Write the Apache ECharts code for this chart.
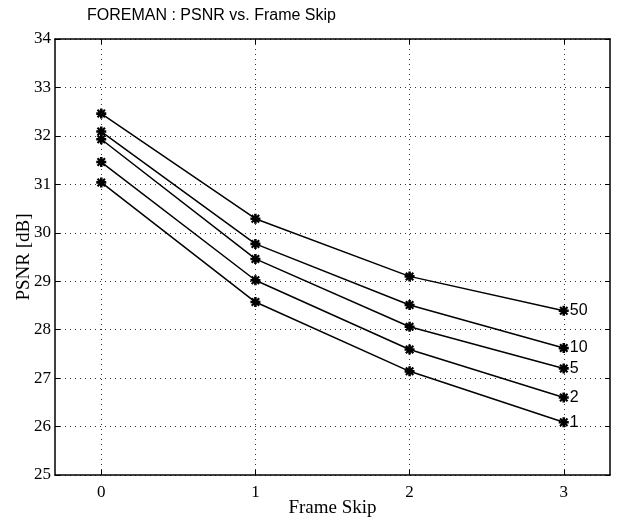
<!DOCTYPE html>
<html>
<head>
<meta charset="utf-8">
<script src="https://cdn.jsdelivr.net/npm/echarts@6/dist/echarts.min.js"></script>
<style>
  html, body { margin: 0; padding: 0; background: #fff; }
  #chart { width: 617px; height: 518px; }
</style>
</head>
<body>
<div id="chart"></div>
<script>
// ----------data----------
const frameSkip = [0, 1, 2, 3];
const xTicks = [0, 1, 2, 3];
const seriesNames = ['50', '10', '5', '2', '1'];
const psnr50 = [32.46, 30.29, 29.10, 28.39];
const psnr10 = [32.09, 29.77, 28.51, 27.62];
const psnr5 = [31.93, 29.46, 28.06, 27.20];
const psnr2 = [31.46, 29.02, 27.59, 26.60];
const psnr1 = [31.04, 28.57, 27.14, 26.09];
const allPsnr = [psnr50, psnr10, psnr5, psnr2, psnr1];
// ------------------------

// 星號標記 (matlab '*')
const starSymbol = 'path://M-1.3,-5L1.3,-5L1.3,5L-1.3,5Z M-5,-1.3L5,-1.3L5,1.3L-5,1.3Z M-4.5,-3L-3,-4.5L4.5,3L3,4.5Z M3,-4.5L4.5,-3L-3,4.5L-4.5,3Z';

const serif = '"Liberation Serif", "DejaVu Serif", serif';
const sans = '"Liberation Sans", Arial, sans-serif';

const chart = echarts.init(document.getElementById('chart'));

const boxAxisLine = { show: true, onZero: false, lineStyle: { color: '#000', width: 1.5 } };
const gridLine = { show: true, lineStyle: { color: '#333', type: [1, 4], width: 1 } };

const option = {
  animation: false,
  backgroundColor: '#fff',
  title: {
    text: 'FOREMAN : PSNR vs. Frame Skip',
    left: 82,
    top: 3,
    textStyle: { fontFamily: sans, fontSize: 16, fontWeight: 'normal', color: '#000' },
  },
  grid: { left: 55, right: 7, top: 39, bottom: 43, outerBoundsMode: 'none', containLabel: false },
  xAxis: [
    {
      type: 'value',
      min: -0.3,
      max: 3.3,
      name: 'Frame Skip',
      nameLocation: 'middle',
      nameGap: 24,
      nameMoveOverlap: false,
      nameTextStyle: { fontFamily: serif, fontSize: 19, color: '#000' },
      axisLine: boxAxisLine,
      axisTick: { show: true, inside: true, length: 5, customValues: xTicks, lineStyle: { color: '#000' } },
      axisLabel: { customValues: xTicks, fontFamily: serif, fontSize: 17, color: '#000', margin: 9 },
      splitLine: gridLine,
    },
    {
      type: 'value',
      position: 'top',
      min: -0.3,
      max: 3.3,
      axisLine: boxAxisLine,
      axisTick: { show: true, inside: true, length: 5, customValues: xTicks, lineStyle: { color: '#000' } },
      axisLabel: { show: false },
      splitLine: { show: false },
    },
  ],
  yAxis: [
    {
      type: 'value',
      min: 25,
      max: 34,
      interval: 1,
      name: 'PSNR [dB]',
      nameLocation: 'middle',
      nameGap: 21,
      nameMoveOverlap: false,
      nameTextStyle: { fontFamily: serif, fontSize: 19, color: '#000' },
      axisLine: boxAxisLine,
      axisTick: { show: true, inside: true, length: 5, lineStyle: { color: '#000' } },
      axisLabel: { fontFamily: serif, fontSize: 17, color: '#000', margin: 4 },
      splitLine: gridLine,
    },
    {
      type: 'value',
      position: 'right',
      min: 25,
      max: 34,
      interval: 1,
      axisLine: boxAxisLine,
      axisTick: { show: true, inside: true, length: 5, lineStyle: { color: '#000' } },
      axisLabel: { show: false },
      splitLine: { show: false },
    },
  ],
  series: seriesNames.map((name, i) => ({
    name,
    type: 'line',
    data: frameSkip.map((x, j) => [x, allPsnr[i][j]]),
    symbol: starSymbol,
    symbolSize: 10,
    itemStyle: { color: '#000' },
    lineStyle: { color: '#000', width: 1.5 },
    endLabel: {
      show: true,
      formatter: name,
      fontFamily: sans,
      fontSize: 16,
      color: '#000',
      distance: 6,
    },
  })),
};

chart.setOption(option);
</script>
</body>
</html>
